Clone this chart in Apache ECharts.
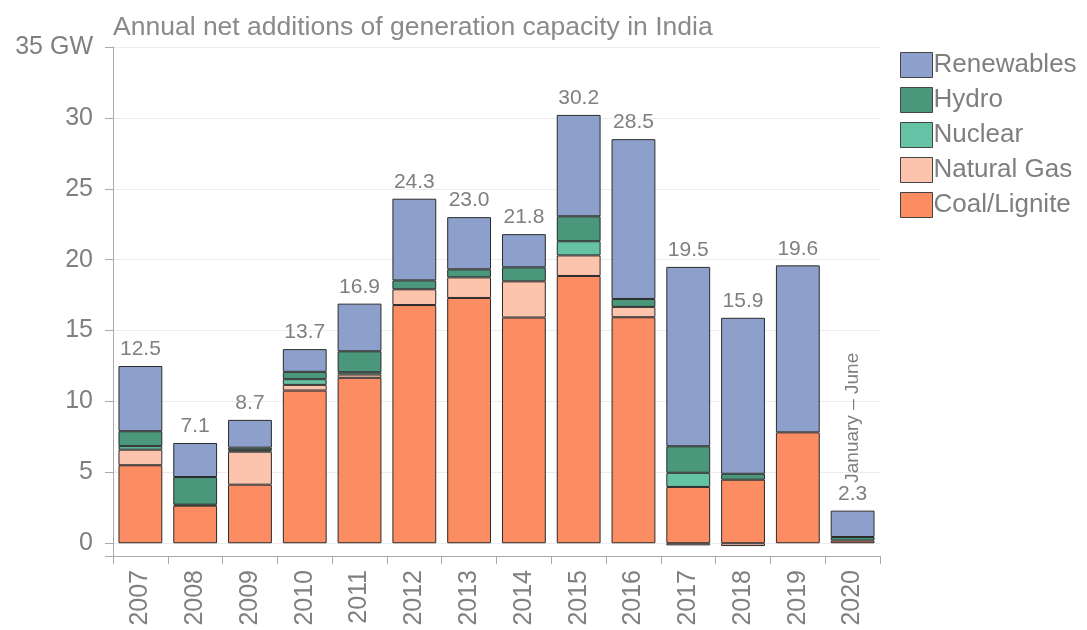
<!DOCTYPE html>
<html>
<head>
<meta charset="utf-8">
<script src="https://cdn.jsdelivr.net/npm/echarts@6/dist/echarts.min.js"></script>
<style>
  html, body { margin: 0; padding: 0; background: #ffffff; }
  #chart { width: 1087px; height: 630px; }
</style>
</head>
<body>
<div id="chart"></div>
<script>
  // 数据
  var years = ['2007', '2008', '2009', '2010', '2011', '2012', '2013', '2014', '2015', '2016', '2017', '2018', '2019', '2020'];
  var coal = [5.5, 2.65, 4.13, 10.77, 11.67, 16.8, 17.3, 15.92, 18.85, 15.94, 3.97, 4.48, 7.82, 0.19];
  var gas = [1.1, 0.07, 2.33, 0.4, 0.23, 1.11, 1.45, 2.55, 1.45, 0.73, -0.15, -0.2, null, null];
  var nuclear = [0.25, null, 0.1, 0.4, 0.16, null, null, null, 1.0, null, 1.0, null, null, null];
  var hydro = [1.05, 1.95, 0.18, 0.52, 1.48, 0.63, 0.57, 0.99, 1.76, 0.56, 1.87, 0.42, null, 0.25];
  var renewables = [4.6, 2.4, 1.96, 1.6, 3.36, 5.76, 3.68, 2.34, 7.15, 11.27, 12.65, 11.0, 11.78, 1.86];
  var totals = ['12.5', '7.1', '8.7', '13.7', '16.9', '24.3', '23.0', '21.8', '30.2', '28.5', '19.5', '15.9', '19.6', '2.3'];
  var legendNames = ['Renewables', 'Hydro', 'Nuclear', 'Natural Gas', 'Coal/Lignite'];

  var fontFamily = '"Liberation Sans", Arial, Helvetica, sans-serif';
  var textColor = '#7f7f7f';

  function barSeries(name, data, color) {
    return {
      name: name,
      type: 'bar',
      stack: 'total',
      barCategoryGap: '20%',
      itemStyle: {
        color: color,
        borderColor: '#2b2b2b',
        borderWidth: 1
      },
      emphasis: { disabled: true },
      data: data
    };
  }

  var chart = echarts.init(document.getElementById('chart'));

  var renewSeries = barSeries('Renewables', renewables, '#8da0cb');
  renewSeries.label = {
    show: true,
    position: 'top',
    distance: 6,
    color: textColor,
    fontSize: 21,
    fontFamily: fontFamily,
    formatter: function (p) {
      return totals[p.dataIndex];
    }
  };

  var option = {
    animation: false,
    title: {
      text: 'Annual net additions of generation capacity in India',
      left: 108,
      top: 9,
      textStyle: {
        color: '#8a8a8a',
        fontSize: 26.5,
        fontWeight: 'normal',
        fontFamily: fontFamily
      }
    },
    legend: {
      orient: 'vertical',
      left: 895,
      top: 47,
      icon: 'rect',
      itemWidth: 32,
      itemHeight: 25,
      itemGap: 9,
      data: legendNames,
      itemStyle: {
        borderColor: '#444444',
        borderWidth: 1
      },
      textStyle: {
        color: textColor,
        fontSize: 26,
        fontFamily: fontFamily,
        padding: [0, 0, 0, -4]
      }
    },
    grid: {
      left: 113,
      right: 207,
      top: 47,
      bottom: 74
    },
    xAxis: {
      type: 'category',
      data: years,
      axisLine: { onZero: false, lineStyle: { color: '#aaaaaa' } },
      axisTick: { show: true, length: 8, lineStyle: { color: '#aaaaaa' } },
      axisLabel: {
        rotate: 90,
        margin: 14,
        color: textColor,
        fontSize: 25,
        fontFamily: fontFamily
      }
    },
    yAxis: {
      type: 'value',
      min: -0.9,
      max: 35,
      splitNumber: 7,
      axisLine: { show: true, lineStyle: { color: '#aaaaaa' } },
      axisTick: { show: true, length: 8, lineStyle: { color: '#aaaaaa' } },
      splitLine: { lineStyle: { color: '#ececec' } },
      axisLabel: {
        margin: 20,
        color: textColor,
        fontSize: 25,
        fontFamily: fontFamily,
        formatter: function (v) {
          if (Math.abs(v % 5) > 1e-6) {
            return '';
          }
          return v === 35 ? '35 GW' : String(v);
        }
      }
    },
    series: [
      barSeries('Coal/Lignite', coal, '#fc8d62'),
      barSeries('Natural Gas', gas, '#fdc4ad'),
      barSeries('Nuclear', nuclear, '#66c2a5'),
      barSeries('Hydro', hydro, '#4a977c'),
      renewSeries
    ]
  };

  chart.setOption(option);

  // 2020 注释
  var pos = chart.convertToPixel({ xAxisIndex: 0, yAxisIndex: 0 }, ['2020', 8.85]);
  chart.setOption({
    graphic: [{
      type: 'text',
      x: pos[0],
      y: pos[1],
      rotation: Math.PI / 2,
      style: {
        text: 'January – June',
        fill: textColor,
        fontSize: 19,
        fontFamily: fontFamily,
        align: 'center',
        verticalAlign: 'middle'
      }
    }]
  });
</script>
</body>
</html>
